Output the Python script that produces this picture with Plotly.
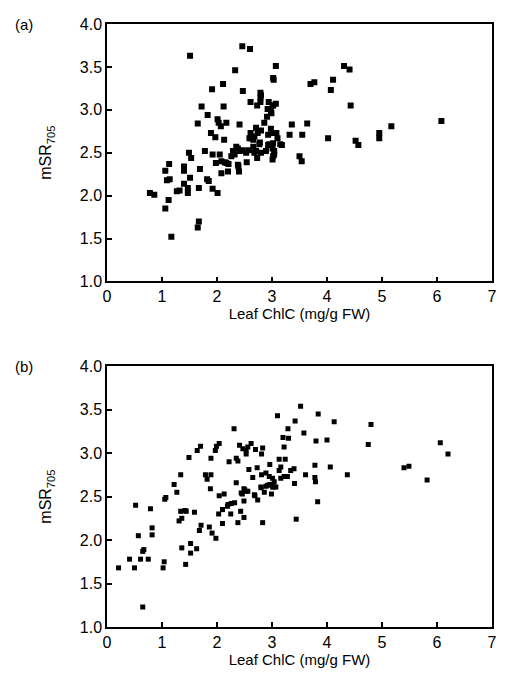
import plotly.graph_objects as go
from plotly.subplots import make_subplots

# Panel (a): leaf ChlC vs mSR705
chl_a = [1.51, 2.46, 2.60, 3.07, 2.33, 3.02, 3.03, 1.91, 2.11, 2.47, 2.79, 2.80, 2.79, 2.61, 2.94,
         3.07, 3.02, 2.79, 1.72, 2.12, 2.73, 2.92, 2.98, 3.01, 2.99, 1.83, 2.91, 2.01, 1.65, 2.03,
         2.17, 2.07, 2.41, 2.86, 2.71, 3.36, 2.98, 2.80, 1.89, 1.97, 2.13, 2.61, 2.62, 2.66, 2.68,
         2.59, 2.74, 2.93, 3.01, 3.08, 3.10, 3.32, 2.78, 2.93, 3.02, 3.15, 2.77, 2.95, 3.18, 1.49,
         1.78, 1.92, 2.05, 2.35, 2.38, 2.29, 2.41, 2.47, 2.53, 2.58, 2.66, 2.68, 2.71, 2.80, 2.89,
         3.01, 3.04, 3.04, 2.32, 2.26, 3.02, 3.01, 2.17, 2.38, 2.54, 2.73, 1.13, 1.06, 1.40, 1.40,
         1.53, 1.69, 1.98, 2.08, 2.14, 2.21, 2.08, 2.20, 2.39, 2.40, 1.09, 1.14, 1.51, 1.40, 1.47,
         1.47, 1.27, 1.32, 1.67, 1.82, 1.85, 1.92, 2.01, 0.78, 0.86, 1.12, 1.06, 1.67, 1.65, 1.17,
         3.50, 3.54, 4.31, 4.41, 3.70, 3.77, 4.11, 4.07, 4.43, 3.64, 5.17, 6.08, 3.55, 4.02, 4.52,
         4.57, 4.95, 4.95]
msr_a = [3.63, 3.74, 3.71, 3.51, 3.46, 3.37, 3.35, 3.24, 3.30, 3.22, 3.20, 3.17, 3.14, 3.09, 3.09,
         3.07, 3.05, 3.09, 3.04, 3.04, 3.05, 3.01, 2.98, 3.05, 2.96, 2.94, 2.92, 2.89, 2.84, 2.85,
         2.85, 2.81, 2.83, 2.85, 2.79, 2.83, 2.78, 2.76, 2.73, 2.68, 2.65, 2.73, 2.67, 2.65, 2.69,
         2.67, 2.73, 2.71, 2.73, 2.73, 2.67, 2.71, 2.62, 2.59, 2.61, 2.60, 2.60, 2.60, 2.59, 2.50,
         2.52, 2.48, 2.48, 2.57, 2.55, 2.52, 2.52, 2.53, 2.50, 2.53, 2.57, 2.50, 2.52, 2.50, 2.52,
         2.55, 2.48, 2.52, 2.48, 2.46, 2.46, 2.42, 2.38, 2.36, 2.39, 2.44, 2.37, 2.29, 2.34, 2.29,
         2.44, 2.31, 2.38, 2.40, 2.39, 2.37, 2.26, 2.28, 2.34, 2.28, 2.18, 2.19, 2.21, 2.14, 2.09,
         2.03, 2.05, 2.06, 2.09, 2.19, 2.17, 2.08, 2.03, 2.03, 2.01, 1.95, 1.85, 1.70, 1.63, 1.52,
         2.46, 2.40, 3.51, 3.47, 3.30, 3.32, 3.35, 3.23, 3.05, 2.84, 2.81, 2.87, 2.71, 2.67, 2.64,
         2.59, 2.73, 2.67]

# Panel (b)
chl_b = [3.10, 3.42, 2.31, 3.29, 3.20, 3.30, 1.70, 1.64, 2.04, 1.99, 1.97, 1.49, 1.89, 2.41, 2.47,
         2.53, 2.56, 2.53, 2.62, 2.70, 2.83, 2.81, 3.22, 2.22, 2.35, 2.38, 2.58, 2.73, 2.96, 3.13,
         3.24, 3.16, 3.13, 3.34, 3.40, 3.61, 3.78, 2.65, 2.81, 2.89, 2.95, 3.01, 3.04, 3.16, 3.22,
         3.28, 3.78, 3.79, 3.41, 2.35, 2.80, 2.92, 3.01, 2.98, 3.07, 2.49, 2.53, 2.46, 2.68, 2.74,
         2.86, 2.99, 2.04, 2.13, 2.20, 2.26, 2.32, 2.49, 3.83, 1.79, 1.89, 1.82, 1.34, 1.22, 1.88,
         1.27, 3.52, 3.84, 4.13, 4.80, 3.58, 3.80, 4.00, 4.75, 6.06, 6.20, 4.06, 5.40, 5.49, 4.37,
         5.82, 1.05, 1.07, 0.52, 0.79, 1.34, 1.42, 1.44, 1.36, 1.31, 1.59, 2.03, 2.10, 2.19, 2.25,
         2.10, 2.38, 2.43, 2.49, 2.44, 2.50, 2.56, 2.69, 2.80, 2.89, 2.96, 3.03, 2.83, 3.44, 1.71,
         1.68, 1.86, 1.91, 1.98, 0.82, 0.82, 0.57, 1.52, 1.52, 1.36, 1.63, 0.67, 0.65, 0.41, 0.61,
         0.75, 0.21, 0.50, 1.02, 1.04, 1.43, 0.65]
msr_b = [3.43, 3.37, 3.28, 3.28, 3.18, 3.17, 3.08, 3.03, 3.11, 3.08, 3.03, 2.95, 2.94, 3.09, 3.05,
         3.03, 3.07, 2.99, 3.11, 3.04, 3.06, 2.99, 3.07, 2.90, 2.94, 2.91, 2.81, 2.83, 2.87, 2.93,
         2.93, 2.84, 2.80, 2.80, 2.82, 2.75, 2.86, 2.72, 2.75, 2.77, 2.73, 2.71, 2.67, 2.71, 2.73,
         2.73, 2.72, 2.67, 2.65, 2.66, 2.61, 2.63, 2.61, 2.64, 2.61, 2.59, 2.56, 2.53, 2.52, 2.46,
         2.55, 2.53, 2.51, 2.53, 2.41, 2.42, 2.43, 2.45, 2.44, 2.75, 2.75, 2.70, 2.75, 2.64, 2.59,
         2.55, 3.54, 3.45, 3.36, 3.33, 3.23, 3.14, 3.15, 3.10, 3.12, 2.99, 2.84, 2.83, 2.85, 2.75,
         2.69, 2.47, 2.49, 2.40, 2.36, 2.33, 2.34, 2.33, 2.25, 2.22, 2.32, 2.30, 2.35, 2.39, 2.30,
         2.19, 2.20, 2.33, 2.26, 2.54, 2.58, 2.56, 2.51, 2.60, 2.62, 2.64, 2.61, 2.20, 2.24, 2.17,
         2.11, 2.15, 2.08, 2.02, 2.14, 2.06, 2.05, 1.96, 1.85, 1.91, 1.90, 1.89, 1.87, 1.78, 1.78,
         1.78, 1.68, 1.68, 1.68, 1.75, 1.72, 1.23]

x_ticks = [0, 1, 2, 3, 4, 5, 6, 7]
y_ticks = [1.0, 1.5, 2.0, 2.5, 3.0, 3.5, 4.0]

FONT = "Liberation Sans, Arial, sans-serif"

fig = make_subplots(rows=2, cols=1, vertical_spacing=0.0)

fig.add_trace(go.Scatter(x=chl_a, y=msr_a, mode="markers",
                         marker=dict(symbol="square", size=6, color="black"),
                         showlegend=False), row=1, col=1)
fig.add_trace(go.Scatter(x=chl_b, y=msr_b, mode="markers",
                         marker=dict(symbol="square", size=5, color="black"),
                         showlegend=False), row=2, col=1)

axis_style = dict(showline=True, linecolor="black", linewidth=1.5, mirror=True,
                  ticks="inside", ticklen=5, tickwidth=1.5, tickcolor="black",
                  showgrid=False, zeroline=False,
                  tickfont=dict(family=FONT, size=16, color="black"))

fig.update_xaxes(range=[0, 7], tickvals=x_ticks, **axis_style)
fig.update_yaxes(range=[1, 4], tickvals=y_ticks, tickformat=".1f", **axis_style)

fig.update_xaxes(domain=[0, 1])
fig.update_layout(
    yaxis=dict(domain=[0.573, 1.0]),
    yaxis2=dict(domain=[0.0, 0.4326]),
)
for ax in ["xaxis", "xaxis2"]:
    fig.layout[ax].title = dict(text="Leaf ChlC (mg/g FW)", standoff=1,
                                font=dict(family=FONT, size=15, color="black"))
for ax in ["yaxis", "yaxis2"]:
    fig.layout[ax].title = dict(text="mSR<sub>705</sub>", standoff=24,
                                font=dict(family=FONT, size=16, color="black"))

fig.add_annotation(text="(a)", xref="paper", yref="paper", x=-0.245, y=1.0,
                   xanchor="left", yanchor="middle", showarrow=False,
                   font=dict(family=FONT, size=15, color="black"))
fig.add_annotation(text="(b)", xref="paper", yref="paper", x=-0.245, y=0.4326,
                   xanchor="left", yanchor="middle", showarrow=False,
                   font=dict(family=FONT, size=15, color="black"))

# page body has an 8px margin, so the figure is sized to fit inside the window
fig.update_layout(
    width=497, height=679,
    margin=dict(l=99, r=8, t=8, b=60),
    plot_bgcolor="white", paper_bgcolor="white",
    font=dict(family=FONT, size=15, color="black"),
)

fig.write_html("out.html")
